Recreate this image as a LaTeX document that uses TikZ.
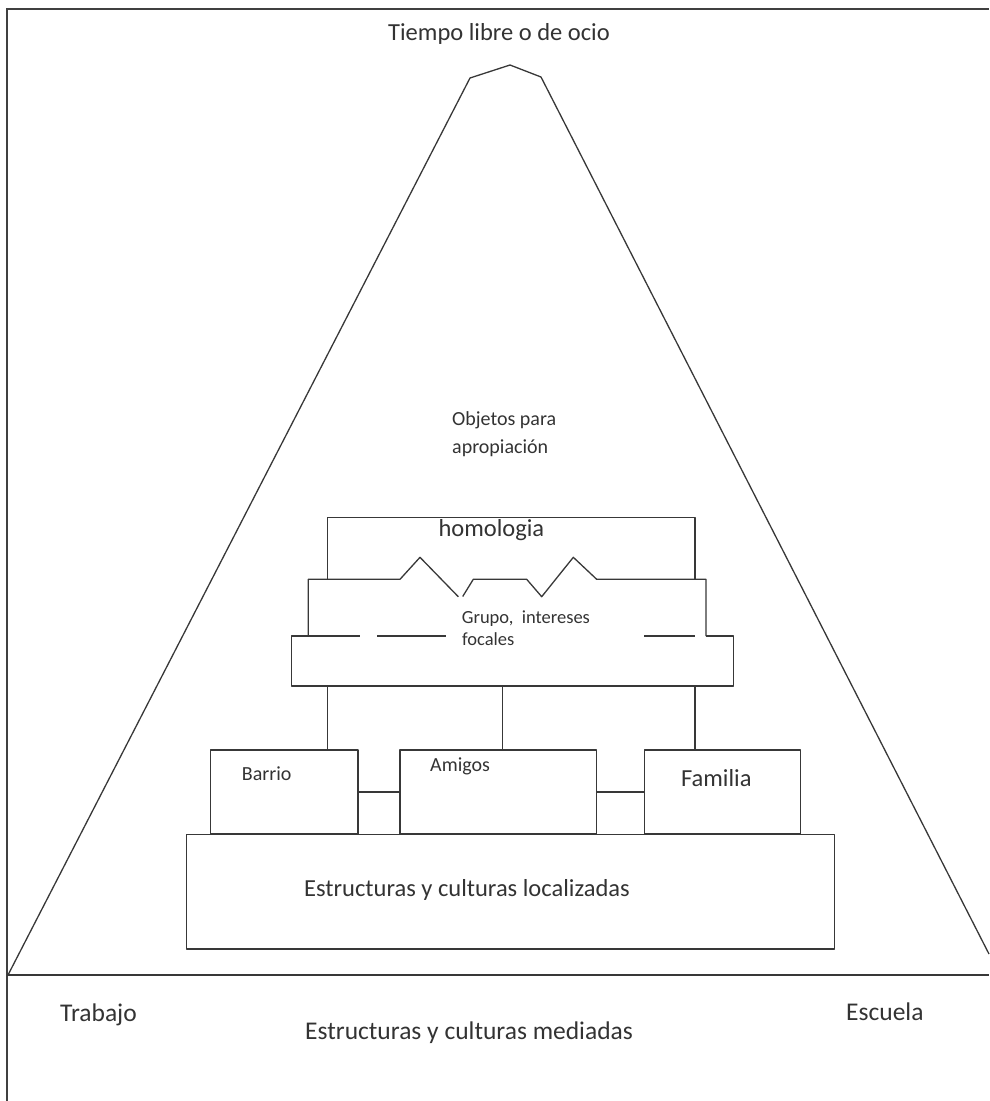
\documentclass[tikz,border=0pt]{standalone}
\usepackage{fontspec}
\setmainfont{Carlito}
\begin{document}
\begin{tikzpicture}[x=1pt,y=-1pt,
  ln/.style={draw=black!78, line width=1.3pt, line join=round},
  frame/.style={draw=black!75, line width=2.2pt},
  lbl/.style={anchor=base west, inner sep=0pt, text=black!80},
  big/.style={font=\fontsize{24.5}{29}\selectfont},
  bigger/.style={font=\fontsize{25.5}{30}\selectfont},
  small/.style={font=\fontsize{20}{24}\selectfont},
  tiny/.style={font=\fontsize{18.5}{22}\selectfont},
  box/.style={ln, rectangle, inner sep=0pt, outer sep=0pt, anchor=north west}]
\useasboundingbox (0,0) rectangle (989,1101);
% outer frame
\draw[frame] (7,1101) -- (7,9) -- (989,9);
\draw[ln] (7,975) -- (989,975);
% pyramid
\draw[ln] (8,975) -- (470,78) -- (510,65) -- (541,77) -- (989,954);
% homologia box
\draw[ln] (327.7,579.3) -- (327.7,517.7) -- (695,517.7) -- (695,579.3);
% grupo box (middle tier)
\draw[ln] (308.3,636) -- (308.3,579.3) -- (400,579.3) -- (420,557.3) -- (458.3,596.7);
\draw[ln] (462.7,596.5) -- (473.3,579.3) -- (526.7,579.3) -- (541.7,596.7) -- (573.3,557.3) -- (596.7,579.3) -- (706,579.3) -- (706,636);
% grupo box (lower tier) with broken top
\draw[ln] (308.3,636) -- (291.7,636) -- (291.7,686) -- (733.3,686) -- (733.3,636) -- (706,636);
\draw[ln] (308.3,636) -- (360,636);
\draw[ln] (377.3,636) -- (445.7,636);
\draw[ln] (644,636) -- (695,636);
\coordinate (g1) at (327.7,686);
\coordinate (g2) at (502.7,686);
\coordinate (g3) at (695,686);
% lower boxes
\node[box, minimum width=147.3pt, minimum height=84pt] (barrio) at (210.7,750) {};
\node[box, minimum width=196.7pt, minimum height=84pt] (amigos) at (400,750) {};
\node[box, minimum width=156.6pt, minimum height=84pt] (familia) at (644.2,750) {};
\node[box, minimum width=647.8pt, minimum height=114.7pt] (loc) at (186.7,834.3) {};
% connectors
\draw[ln] (g1) -- (g1 |- barrio.north);
\draw[ln] (g2) -- (g2 |- amigos.north);
\draw[ln] (g3) -- (g3 |- familia.north);
\draw[ln] (barrio.east) -- (amigos.west);
\draw[ln] (amigos.east) -- (familia.west);
% texts
\node[lbl,big] (tiempo) at (388,40) {Tiempo libre o de ocio};
\node[lbl,small] (obj1) at (452,425) {Objetos para};
\node[lbl,small] (obj2) at (452,453) {apropiación};
\node[lbl,big] (homo) at (438.3,536) {homologia};
\node[lbl,tiny] (grupo1) at (461.7,623.3) {Grupo,\ \ intereses};
\node[lbl,tiny] (grupo2) at (462,645.7) {focales};
\node[lbl,small] (tbarrio) at (241.7,780) {Barrio};
\node[lbl,small] (tamigos) at (430,771.7) {Amigos};
\node[lbl,big] (tfamilia) at (680.8,786.7) {Familia};
\node[lbl,big] (tloc) at (304,896.7) {Estructuras y culturas localizadas};
\node[lbl,bigger] (trabajo) at (60,1021.7) {Trabajo};
\node[lbl,bigger] (escuela) at (846,1020) {Escuela};
\node[lbl,bigger] (tmed) at (305,1039) {Estructuras y culturas mediadas};
\end{tikzpicture}
\end{document}
